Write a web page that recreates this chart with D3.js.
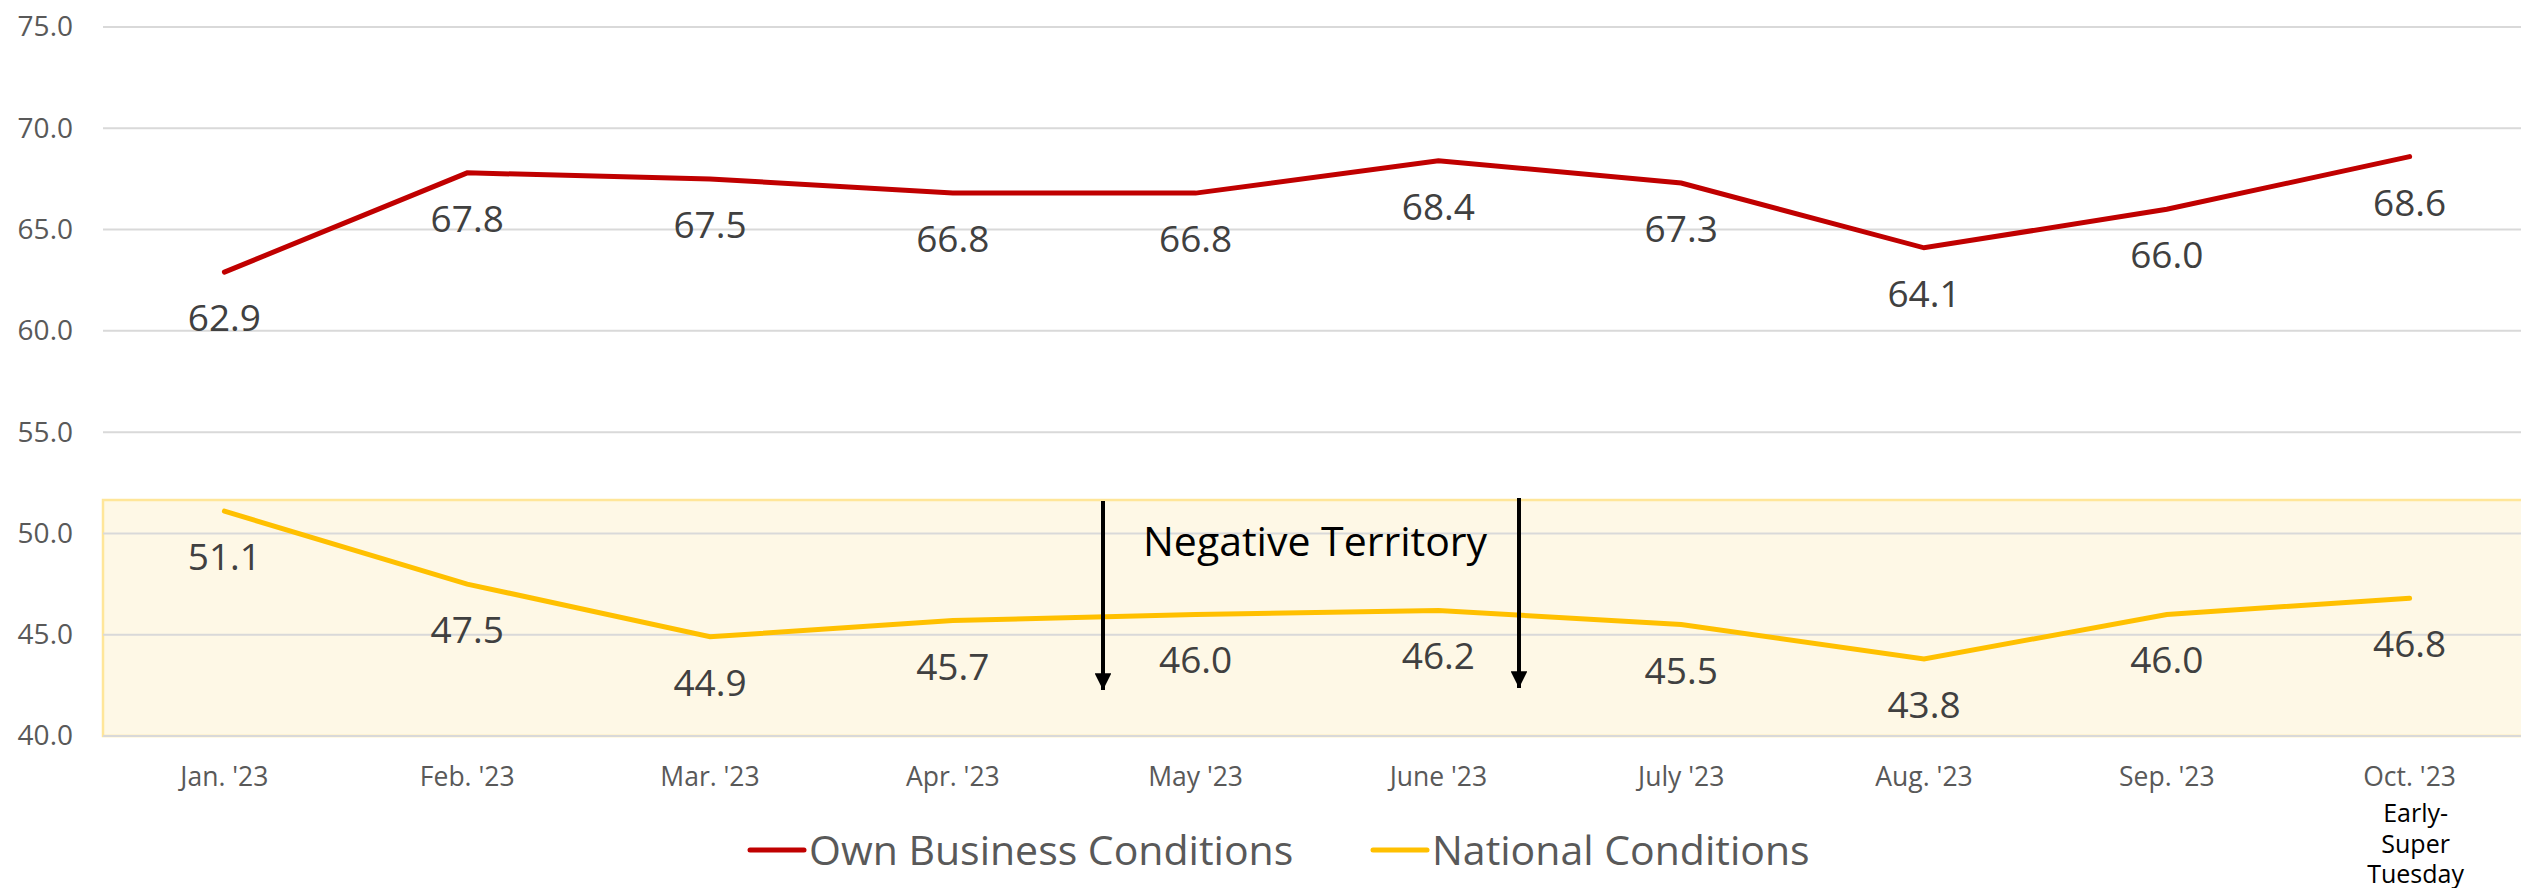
<!DOCTYPE html>
<html>
<head>
<meta charset="utf-8">
<script src="https://cdn.jsdelivr.net/npm/d3@7"></script>
<style>
  body { margin: 0; background: #fff; }
  text { font-family: "Open Sans", sans-serif; }
</style>
</head>
<body>
<div id="chart"></div>
<script>
// Chart data
const months = ["Jan. '23", "Feb. '23", "Mar. '23", "Apr. '23", "May '23", "June '23", "July '23", "Aug. '23", "Sep. '23", "Oct. '23"];
const ownBusiness = [62.9, 67.8, 67.5, 66.8, 66.8, 68.4, 67.3, 64.1, 66.0, 68.6];
const national = [51.1, 47.5, 44.9, 45.7, 46.0, 46.2, 45.5, 43.8, 46.0, 46.8];
const yTicks = [40, 45, 50, 55, 60, 65, 70, 75];
const octNote = ["Early-", "Super", "Tuesday"];
const negativeTop = 51.65;  // top of the shaded band

const WIDTH = 2521;
const HEIGHT = 888;
const MARGIN = { left: 103, right: -10, top: 27, bottom: 152 };

const RED = "#C00000";
const YELLOW = "#FFC000";

const svg = d3.select("#chart").append("svg")
    .attr("width", WIDTH).attr("height", HEIGHT);

const x = d3.scaleBand()
    .domain(months)
    .range([MARGIN.left, WIDTH - MARGIN.right]);

const y = d3.scaleLinear()
    .domain([40, 75])
    .range([HEIGHT - MARGIN.bottom, MARGIN.top]);

const cx = d => x(d) + x.bandwidth() / 2;

// Shaded "negative territory" band
svg.append("rect")
    .attr("x", MARGIN.left)
    .attr("y", y(negativeTop))
    .attr("width", WIDTH - MARGIN.left + 5)
    .attr("height", y(40) - y(negativeTop))
    .attr("fill", "#FEF8E6")
    .attr("stroke", "#FFE699")
    .attr("stroke-width", 2.5);

// Gridlines
svg.append("g")
    .selectAll("line")
    .data(yTicks)
    .join("line")
    .attr("x1", MARGIN.left)
    .attr("x2", WIDTH)
    .attr("y1", d => y(d))
    .attr("y2", d => y(d))
    .attr("stroke", "#D9D9D9")
    .attr("stroke-width", 2);

// Y axis labels
const yAxis = svg.append("g")
    .attr("transform", `translate(${MARGIN.left},0)`)
    .call(d3.axisLeft(y).tickValues(yTicks).tickFormat(d3.format(".1f")).tickSize(0).tickPadding(30));
yAxis.select(".domain").remove();
yAxis.selectAll("text")
    .attr("font-family", "Open Sans")
    .attr("font-size", 28)
    .attr("fill", "#595959");

// X axis labels
const xAxis = svg.append("g")
    .attr("transform", `translate(0,${y(40)})`)
    .call(d3.axisBottom(x).tickSize(0).tickPadding(31));
xAxis.select(".domain").remove();
xAxis.selectAll("text")
    .attr("font-family", "Open Sans")
    .attr("font-size", 26.5)
    .attr("fill", "#595959");

// note under the last month
svg.append("g")
    .selectAll("text")
    .data(octNote)
    .join("text")
    .attr("x", cx(months[months.length - 1]) + 6)
    .attr("y", (d, i) => 822 + i * 30.5)
    .attr("text-anchor", "middle")
    .attr("font-size", 25)
    .attr("fill", "#000")
    .text(d => d);

// Lines
const line = d3.line()
    .x((d, i) => cx(months[i]))
    .y(d => y(d));

svg.append("path")
    .datum(national)
    .attr("d", line)
    .attr("fill", "none")
    .attr("stroke", YELLOW)
    .attr("stroke-width", 5)
    .attr("stroke-linecap", "round");

svg.append("path")
    .datum(ownBusiness)
    .attr("d", line)
    .attr("fill", "none")
    .attr("stroke", RED)
    .attr("stroke-width", 5)
    .attr("stroke-linecap", "round");

// Data labels, below each point
function addLabels(values) {
    svg.append("g")
        .selectAll("text")
        .data(values)
        .join("text")
        .attr("x", (d, i) => cx(months[i]))
        .attr("y", d => y(d) + 59)
        .attr("text-anchor", "middle")
        .attr("font-size", 37)
        .attr("fill", "#404040")
        .text(d => d.toFixed(1));
}
addLabels(ownBusiness);
addLabels(national);

// Negative territory annotation
svg.append("text")
    .attr("x", 1143)
    .attr("y", 556)
    .attr("font-size", 41)
    .attr("fill", "#000")
    .text("Negative Territory");

svg.append("defs").append("marker")
    .attr("id", "arrow")
    .attr("viewBox", "0 0 10 10")
    .attr("refX", 10).attr("refY", 5)
    .attr("markerWidth", 4.2).attr("markerHeight", 4.2)
    .attr("markerUnits", "strokeWidth")
    .attr("orient", "auto")
    .append("path")
    .attr("d", "M0,0 L10,5 L0,10 Z")
    .attr("fill", "#000");

[[1103, 501, 690], [1519, 498, 688]].forEach(([ax, y1, y2]) => {
    svg.append("line")
        .attr("x1", ax).attr("x2", ax)
        .attr("y1", y1).attr("y2", y2)
        .attr("stroke", "#000")
        .attr("stroke-width", 4)
        .attr("marker-end", "url(#arrow)");
});

// Legend
const legend = [
    { name: "Own Business Conditions", color: RED, x: 750 },
    { name: "National Conditions", color: YELLOW, x: 1373 }
];
const lg = svg.append("g");
legend.forEach(l => {
    lg.append("line")
        .attr("x1", l.x).attr("x2", l.x + 54)
        .attr("y1", 850).attr("y2", 850)
        .attr("stroke", l.color)
        .attr("stroke-width", 5)
        .attr("stroke-linecap", "round");
    lg.append("text")
        .attr("x", l.x + 59)
        .attr("y", 865)
        .attr("font-size", 41)
        .attr("fill", "#595959")
        .text(l.name);
});
</script>
</body>
</html>
